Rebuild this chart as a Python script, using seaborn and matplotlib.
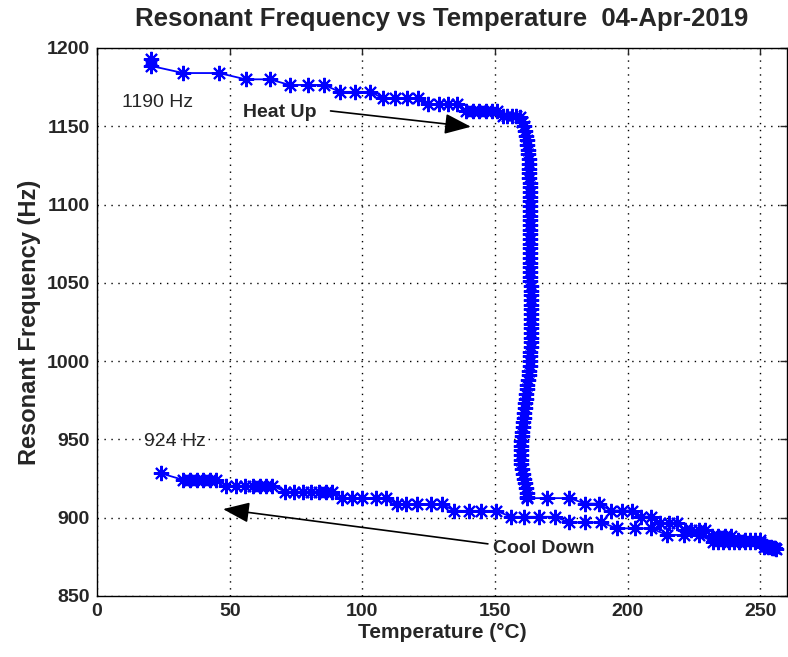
import matplotlib
matplotlib.use("Agg")
import matplotlib.pyplot as plt
import seaborn as sns
import pandas as pd

# Heating run: slow drop, sharp transition near 163 C, then continued heating
heat_T = [20.5, 20.5, 32.5, 46, 56, 65, 72.6, 79.4, 85.7, 91.4, 97.4, 103,
          107.6, 112.4, 116.7, 121, 124.6, 128.7, 132.4, 135.8, 139, 141.5,
          144, 146.5, 148.7, 150.7, 152.8, 154.5, 156.2, 158, 159.5,
          160.3, 160.8, 161.4, 161.8, 162.0, 162.2, 162.4, 162.5, 162.6, 162.7,
          162.8, 162.9, 162.9, 163.0, 163.0, 163.0, 163.0, 163.0, 163.1, 163.1,
          163.0, 163.1, 163.1, 163.1, 163.1, 163.2, 163.2, 163.2, 163.2, 163.2,
          163.2, 163.3, 163.3, 163.3, 163.3, 163.4, 163.4, 163.4, 163.4, 163.4,
          163.4, 163.4, 163.4, 163.4, 163.4, 163.4, 163.4, 163.4, 163.4, 163.3,
          163.3, 163.2, 163.0, 162.8, 162.6, 162.4, 162.2, 162.0, 161.8, 161.6,
          161.4, 161.2, 161.0, 160.8, 160.6, 160.4, 160.2, 160.0, 159.8, 159.7,
          159.6, 159.6, 159.6, 159.7, 160.0, 160.4, 160.9, 161.3, 161.7, 162.0,
          162.2,
          162.2, 169.5, 178, 184, 189, 193.5, 198, 201.6, 205, 208.8, 212.3,
          215.4, 218.5, 221.4, 224, 226.7, 229, 231.7, 234, 236.6, 239, 241.7,
          244, 246, 248, 250, 251.5, 253, 254.5, 255.5]
heat_f = [1193, 1188.5, 1184, 1184, 1180, 1180, 1176.4, 1176.4, 1176.4, 1172,
          1172, 1172, 1168, 1168, 1168, 1168, 1164, 1164, 1164, 1164, 1160,
          1160, 1160, 1160, 1160, 1160, 1156.5, 1156.5, 1156.5, 1156.5, 1156,
          1153, 1150, 1147, 1144, 1141, 1138, 1135, 1132, 1129, 1126,
          1123, 1120, 1117, 1114, 1111, 1108, 1105, 1102, 1099, 1096,
          1093, 1090, 1087, 1084, 1081, 1078, 1075, 1072, 1069, 1066,
          1063, 1060, 1057, 1054, 1051, 1048, 1045, 1042, 1039, 1036,
          1033, 1030, 1027, 1024, 1021, 1018, 1015, 1012, 1009, 1006,
          1003, 1000, 997, 994, 991, 988, 985, 982, 979, 976,
          973, 970, 967, 964, 961, 958, 955, 952, 949, 946,
          943, 940, 937, 934, 931, 928, 925, 922, 919, 916,
          913,
          912.5, 912.5, 912.5, 909, 909, 904.6, 904.6, 904.6, 900.7, 900.7,
          896.5, 896.5, 896.5, 892.2, 892.2, 892.2, 892.2, 888.4, 888.4, 888.4,
          888.4, 885.5, 885.5, 885.5, 885.5, 885.5, 881, 881, 880.5, 880.5]

# Cooling run back to room temperature
cool_T = [256, 255, 254, 252, 250, 248, 246, 244, 242, 240, 238, 236, 234,
          232.3, 226.7, 221, 214.8, 208.8, 202.6, 196, 190, 184, 178, 172.5,
          166.5, 161, 156, 150.4, 144.7, 140, 134.6, 130, 126, 120.7, 116.5,
          113, 109, 105, 100, 96, 92.5, 88.7, 86.3, 83.8, 80.7, 77.5, 74.4,
          71, 66, 63.8, 61.3, 58.6, 55.6, 52.5, 48.7, 45, 42.5, 40, 37.5, 35,
          32.4, 24]
cool_f = [880, 880.5, 881.5, 882, 884.7, 884.7, 884.7, 884.7, 884.7, 884.7,
          884.7, 884.7, 884.7, 884.7, 889, 889, 889, 893.2, 893.2, 893.2, 897,
          897, 897, 900.6, 900.6, 900.6, 900.6, 904.4, 904.4, 904.4, 904.4,
          908.7, 908.7, 908.7, 908.7, 908.7, 912.5, 912.5, 912.5, 912.5, 912.5,
          916.6, 916.6, 916.6, 916.6, 916.6, 916.6, 916.6, 920.4, 920.4, 920.4,
          920.4, 920.4, 920.4, 920.4, 924.2, 924.2, 924.2, 924.2, 924.2, 924.2,
          928.4]

x_ticks = [0, 50, 100, 150, 200, 250]
y_ticks = [850, 900, 950, 1000, 1050, 1100, 1150, 1200]

temps = heat_T + cool_T
freqs = heat_f + cool_f
df = pd.DataFrame({"T": temps, "f": freqs, "step": range(len(temps))})

sns.set_style("white")
plt.rcParams["font.family"] = ["Liberation Sans", "DejaVu Sans"]

fig = plt.figure(figsize=(7.88, 6.57), dpi=100)
ax = fig.add_axes([97 / 788, 61 / 657, 690 / 788, 548 / 657])

sns.lineplot(data=df, x="T", y="f", sort=False, estimator=None, ax=ax,
             color="#0000ff", linewidth=1.3, marker=(8, 2, 0),
             markersize=11, markeredgewidth=1.5, markeredgecolor="#0000ff")

ax.set_xlim(0, 260)
ax.set_ylim(850, 1200)
ax.set_xticks(x_ticks)
ax.set_yticks(y_ticks)
ax.grid(True, color="black", linestyle=(0, (1, 4)), linewidth=1.0)
ax.tick_params(direction="in", length=5, width=1, top=True, right=True,
               labelsize=14, pad=5)
for lab in ax.get_xticklabels() + ax.get_yticklabels():
    lab.set_fontweight("bold")
for s in ax.spines.values():
    s.set_color("black")
    s.set_linewidth(1)

ax.set_xlabel("Temperature (°C)", fontsize=15, fontweight="bold", labelpad=2)
ax.set_ylabel("Resonant Frequency (Hz)", fontsize=17, fontweight="bold",
              labelpad=4)
ax.set_title("Resonant Frequency vs Temperature  04-Apr-2019", fontsize=18.5,
             fontweight="bold", pad=16)

ax.text(9.4, 1165, "1190 Hz", fontsize=14, ha="left", va="center")
ax.text(17.7, 948.4, "924 Hz", fontsize=14, ha="left", va="center")
ax.text(55, 1159, "Heat Up", fontsize=14, fontweight="bold", ha="left",
        va="center")
ax.text(149.2, 880.2, "Cool Down", fontsize=14, fontweight="bold", ha="left",
        va="center")

arrow = dict(arrowstyle="-|>,head_length=0.9,head_width=0.35", color="black",
             lw=1.2, mutation_scale=18, shrinkA=0, shrinkB=0)
ax.annotate("", xy=(140.9, 1149.7), xytext=(88, 1159.8), arrowprops=arrow)
ax.annotate("", xy=(47.5, 905.5), xytext=(147.3, 883.3), arrowprops=arrow)

fig.savefig("out.png", dpi=100, facecolor="white")
